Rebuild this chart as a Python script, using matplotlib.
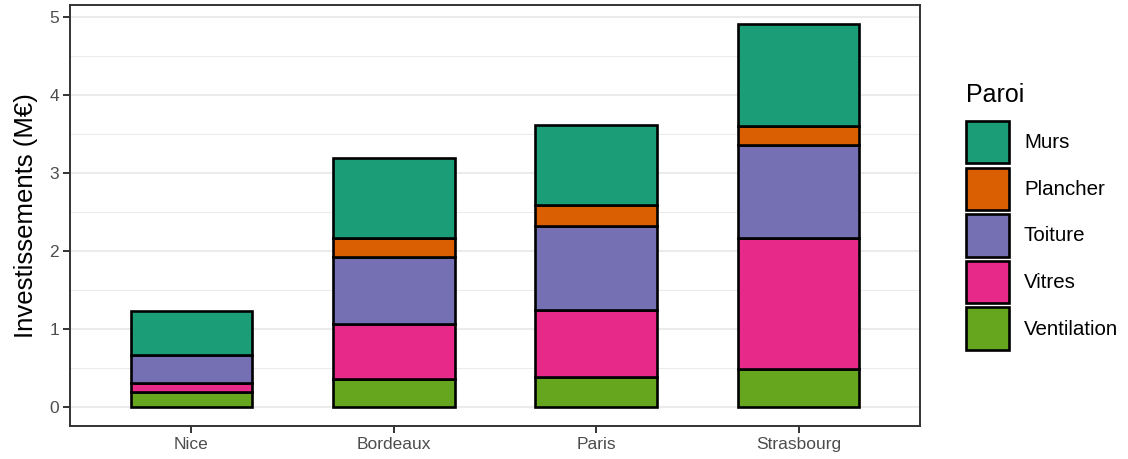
import matplotlib.pyplot as plt
import numpy as np
from matplotlib.patches import Patch

plt.rcParams['font.family'] = ['Liberation Sans', 'DejaVu Sans']

# Données (M€)
villes = ['Nice', 'Bordeaux', 'Paris', 'Strasbourg']
parois = ['Ventilation', 'Vitres', 'Toiture', 'Plancher', 'Murs']
ventilation = [0.19, 0.36, 0.38, 0.48]
vitres = [0.11, 0.70, 0.86, 1.69]
toiture = [0.36, 0.86, 1.08, 1.19]
plancher = [0.00, 0.25, 0.27, 0.24]
murs = [0.57, 1.02, 1.03, 1.31]

couleurs = {'Murs': '#1B9E77', 'Plancher': '#D95F02', 'Toiture': '#7570B3',
            'Vitres': '#E7298A', 'Ventilation': '#66A61E'}

series = [ventilation, vitres, toiture, plancher, murs]

W, H = 1128, 459
fig = plt.figure(figsize=(W / 100, H / 100), dpi=100)
ax = fig.add_axes([70 / W, 33 / H, 850 / W, 421 / H])

x = np.arange(1, len(villes) + 1)
bas = np.zeros(len(villes))
for nom, vals in zip(parois, series):
    vals = np.array(vals)
    masque = vals > 0
    ax.bar(x[masque], vals[masque], bottom=bas[masque], width=0.6,
           color=couleurs[nom], edgecolor='black', linewidth=1.9, zorder=3)
    bas += vals

total = bas.max()
ax.set_xlim(0.4, 4.6)
ax.set_ylim(-0.05 * total, total * 1.05)
ax.set_xticks(x)
ax.set_xticklabels(villes)
ax.set_yticks([0, 1, 2, 3, 4, 5])
ax.set_yticks([0.5, 1.5, 2.5, 3.5, 4.5], minor=True)
ax.tick_params(axis='both', colors='#333333', labelcolor='#4D4D4D',
               labelsize=12.5, length=5, width=1.4, pad=3)
ax.tick_params(axis='y', which='minor', length=0)
ax.grid(axis='y', which='major', color='#EBEBEB', linewidth=1.5, zorder=0)
ax.grid(axis='y', which='minor', color='#EBEBEB', linewidth=0.75, zorder=0)
for s in ax.spines.values():
    s.set_color('#333333')
    s.set_linewidth(1.4)
ax.set_ylabel('Investissements (M€)', fontsize=18.5, labelpad=8)

# Légende (titre placé à part pour garder l'écart du modèle)
fig.text(966 / W, 1 - 95 / H, 'Paroi', fontsize=18, ha='left', va='center')
noms_leg = ['Murs', 'Plancher', 'Toiture', 'Vitres', 'Ventilation']
handles = [Patch(facecolor=couleurs[n], edgecolor='black', linewidth=1.9)
           for n in noms_leg]
leg = fig.legend(handles, noms_leg, loc='upper left',
                 bbox_to_anchor=(966 / W, 1 - 121 / H),
                 frameon=False, fontsize=14.8,
                 handlelength=2.1, handleheight=2.8, labelspacing=0.2,
                 handletextpad=0.72, borderaxespad=0, borderpad=0)

fig.savefig('out.png', dpi=100)
